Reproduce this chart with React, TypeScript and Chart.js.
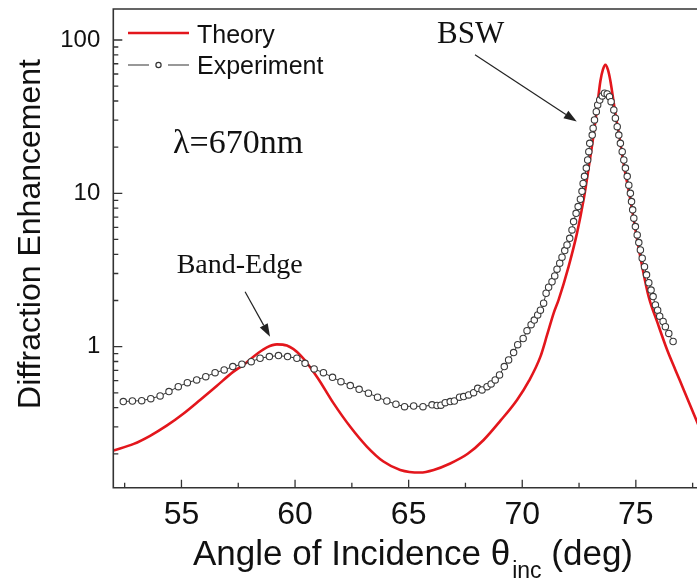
import { useEffect, useRef } from 'react';
import { Chart, registerables } from 'chart.js';

Chart.register(...registerables);

// ---- data ----
const theoryX = [52.0, 52.9, 53.62, 54.35, 55.08, 55.82, 56.55, 57.29, 57.73, 58.32, 58.76, 59.2, 59.64, 60.22, 60.96, 61.69, 62.43, 63.16, 63.89, 64.63, 65.51, 66.1, 66.83, 67.6, 68.3, 69.05, 69.77, 70.3, 70.8, 71.1, 71.38, 71.6, 72.04, 72.41, 72.7, 72.93, 73.15, 73.29, 73.44, 73.55, 73.66, 73.77, 73.88, 74.1, 74.25, 74.5, 74.76, 75.0, 75.28, 75.57, 75.94, 76.38, 76.75, 77.11, 77.72, 78.0];
const theoryY = [0.21, 0.232, 0.262, 0.305, 0.365, 0.449, 0.554, 0.687, 0.76, 0.896, 0.99, 1.035, 1.016, 0.883, 0.637, 0.428, 0.3, 0.223, 0.178, 0.157, 0.151, 0.157, 0.173, 0.2, 0.246, 0.33, 0.449, 0.6, 0.861, 1.2, 1.65, 2.02, 3.33, 5.5, 9.06, 14.9, 24.7, 36.0, 54.0, 64.0, 68.8, 64.0, 54.0, 33.0, 24.7, 14.5, 9.06, 5.6, 3.33, 2.1, 1.45, 0.95, 0.7, 0.522, 0.316, 0.25];

const expX = [52.44, 52.84, 53.25, 53.65, 54.06, 54.45, 54.86, 55.26, 55.67, 56.07, 56.48, 56.88, 57.26, 57.66, 58.07, 58.46, 58.87, 59.27, 59.67, 60.08, 60.44, 60.84, 61.25, 61.65, 62.02, 62.43, 62.82, 63.23, 63.63, 64.04, 64.44, 64.82, 65.22, 65.63, 66.03, 66.25, 66.42, 66.61, 66.83, 67.01, 67.24, 67.42, 67.64, 67.86, 68.04, 68.23, 68.45, 68.63, 68.81, 69.0, 69.21, 69.4, 69.62, 69.8, 70.04, 70.21, 70.39, 70.53, 70.68, 70.8, 70.94, 71.05, 71.16, 71.31, 71.43, 71.53, 71.65, 71.75, 71.87, 71.97, 72.09, 72.19, 72.26, 72.37, 72.46, 72.56, 72.63, 72.68, 72.74, 72.82, 72.88, 72.93, 72.97, 73.08, 73.12, 73.18, 73.26, 73.32, 73.41, 73.52, 73.62, 73.74, 73.84, 73.91, 74.03, 74.1, 74.18, 74.25, 74.32, 74.4, 74.47, 74.54, 74.62, 74.69, 74.76, 74.81, 74.86, 74.91, 74.98, 75.06, 75.13, 75.2, 75.28, 75.38, 75.47, 75.57, 75.67, 75.76, 75.86, 75.96, 76.05, 76.2, 76.3, 76.45, 76.64];
const expY = [0.438, 0.442, 0.444, 0.458, 0.477, 0.509, 0.548, 0.582, 0.607, 0.637, 0.676, 0.705, 0.741, 0.768, 0.798, 0.84, 0.861, 0.874, 0.861, 0.84, 0.778, 0.715, 0.676, 0.631, 0.591, 0.557, 0.527, 0.497, 0.468, 0.442, 0.421, 0.406, 0.41, 0.406, 0.417, 0.413, 0.415, 0.431, 0.438, 0.442, 0.468, 0.472, 0.484, 0.501, 0.535, 0.522, 0.548, 0.571, 0.607, 0.654, 0.741, 0.819, 0.914, 1.03, 1.13, 1.27, 1.39, 1.49, 1.61, 1.73, 1.92, 2.23, 2.44, 2.65, 2.89, 3.2, 3.5, 3.83, 4.23, 4.61, 5.09, 5.77, 6.54, 7.41, 8.19, 9.15, 10.3, 11.6, 12.9, 14.6, 16.5, 18.7, 21.2, 24.0, 26.6, 30.1, 34.1, 37.7, 40.6, 43.2, 45.0, 44.5, 42.7, 39.6, 35.0, 30.9, 27.2, 24.0, 21.2, 18.7, 16.5, 14.6, 12.9, 11.3, 10.0, 8.83, 7.8, 6.88, 6.07, 5.35, 4.77, 4.27, 3.77, 3.32, 2.94, 2.61, 2.34, 2.12, 1.87, 1.73, 1.58, 1.46, 1.35, 1.22, 1.08];

const xTicks = [55, 60, 65, 70, 75];
const yTicks = [1, 10, 100];
const seriesNames = ['Theory', 'Experiment'];

const X_MIN = 52;
const X_MAX = 78;
const Y_MIN = 0.1202;
const Y_MAX = 159.3;

const SANS = '"Liberation Sans", Arial, sans-serif';
const SERIF = '"Liberation Serif", "Times New Roman", serif';
const RED = '#e3161c';
const DARK = '#333333';

function arrow(ctx: CanvasRenderingContext2D, x1: number, y1: number, x2: number, y2: number) {
  const ang = Math.atan2(y2 - y1, x2 - x1);
  const hl = 13, hw = 4.5;
  const bx = x2 - hl * Math.cos(ang), by = y2 - hl * Math.sin(ang);
  ctx.beginPath();
  ctx.moveTo(x1, y1);
  ctx.lineTo(bx, by);
  ctx.stroke();
  ctx.beginPath();
  ctx.moveTo(x2, y2);
  ctx.lineTo(bx + hw * Math.sin(ang), by - hw * Math.cos(ang));
  ctx.lineTo(bx - hw * Math.sin(ang), by + hw * Math.cos(ang));
  ctx.closePath();
  ctx.fill();
}

const decorPlugin = {
  id: 'decor',
  afterDraw(chart: any) {
    const { ctx, chartArea: a, scales } = chart;
    const xs = scales.x, ys = scales.y;
    ctx.save();
    // frame
    ctx.strokeStyle = DARK;
    ctx.lineWidth = 1.6;
    ctx.beginPath();
    ctx.moveTo(a.right, a.top);
    ctx.lineTo(a.left, a.top);
    ctx.lineTo(a.left, a.bottom);
    ctx.lineTo(a.right, a.bottom);
    ctx.lineTo(a.right, a.top);
    ctx.stroke();
    // inward ticks, y (log)
    ctx.lineWidth = 1.3;
    ctx.beginPath();
    for (const d of [0.1, 1, 10, 100]) {
      for (let k = 1; k <= 9; k++) {
        const v = k * d;
        if (v < Y_MIN || v > Y_MAX) continue;
        const y = ys.getPixelForValue(v);
        const len = k === 1 ? 9 : 5;
        ctx.moveTo(a.left, y);
        ctx.lineTo(a.left + len, y);
      }
    }
    // inward ticks, x
    for (let v = 52.5; v <= X_MAX; v += 2.5) {
      const x = xs.getPixelForValue(v);
      const len = Math.abs(v % 5) < 1e-6 ? 8 : 5;
      ctx.moveTo(x, a.bottom);
      ctx.lineTo(x, a.bottom - len);
    }
    ctx.stroke();

    // legend
    ctx.lineWidth = 2.6;
    ctx.strokeStyle = RED;
    ctx.beginPath();
    ctx.moveTo(128, 33);
    ctx.lineTo(189, 33);
    ctx.stroke();
    ctx.lineWidth = 1.2;
    ctx.strokeStyle = DARK;
    ctx.beginPath();
    ctx.moveTo(128, 65);
    ctx.lineTo(149, 65);
    ctx.moveTo(168, 65);
    ctx.lineTo(189, 65);
    ctx.stroke();
    ctx.beginPath();
    ctx.arc(158.5, 65, 2.6, 0, Math.PI * 2);
    ctx.fillStyle = '#fff';
    ctx.fill();
    ctx.stroke();
    ctx.fillStyle = '#111';
    ctx.font = `25px ${SANS}`;
    ctx.textAlign = 'left';
    ctx.textBaseline = 'alphabetic';
    ctx.fillText(seriesNames[0], 197, 43);
    ctx.fillText(seriesNames[1], 197, 74);

    // annotations (anchored in data coordinates)
    ctx.font = `34px ${SERIF}`;
    ctx.fillText('\u03BB=670nm', xs.getPixelForValue(54.63), ys.getPixelForValue(18.4));
    ctx.font = `31px ${SERIF}`;
    ctx.fillText('BSW', xs.getPixelForValue(66.25), ys.getPixelForValue(96));
    ctx.font = `28px ${SERIF}`;
    ctx.fillText('Band-Edge', xs.getPixelForValue(54.79), ys.getPixelForValue(3.01));
    ctx.strokeStyle = '#222';
    ctx.fillStyle = '#222';
    ctx.lineWidth = 1.2;
    arrow(ctx, xs.getPixelForValue(67.92), ys.getPixelForValue(80), xs.getPixelForValue(72.4), ys.getPixelForValue(29.4));
    arrow(ctx, xs.getPixelForValue(57.8), ys.getPixelForValue(2.28), xs.getPixelForValue(58.9), ys.getPixelForValue(1.16));

    // axis titles
    ctx.fillStyle = '#111';
    ctx.save();
    ctx.translate(31, 234);
    ctx.rotate(-Math.PI / 2);
    ctx.font = `32px ${SANS}`;
    ctx.textAlign = 'center';
    ctx.textBaseline = 'middle';
    ctx.fillText('Diffraction Enhancement', 0, 0);
    ctx.restore();

    const main = 'Angle of Incidence \u03B8';
    const sub = 'inc';
    const tail = ' (deg)';
    ctx.font = `35px ${SANS}`;
    const w1 = ctx.measureText(main).width;
    const w3 = ctx.measureText(tail).width;
    ctx.font = `23px ${SANS}`;
    const w2 = ctx.measureText(sub).width;
    const total = w1 + 2 + w2 + w3;
    const x0 = 413 - total / 2;
    ctx.textAlign = 'left';
    ctx.textBaseline = 'alphabetic';
    ctx.font = `35px ${SANS}`;
    ctx.fillText(main, x0, 565);
    ctx.font = `23px ${SANS}`;
    ctx.fillText(sub, x0 + w1 + 2, 578);
    ctx.font = `35px ${SANS}`;
    ctx.fillText(tail, x0 + w1 + 2 + w2, 565);
    ctx.restore();
  },
};

export default function App() {
  const ref = useRef<HTMLCanvasElement>(null);
  useEffect(() => {
    const chart = new Chart(ref.current as HTMLCanvasElement, {
      type: 'line',
      data: {
        datasets: [
          {
            label: seriesNames[1],
            data: expX.map((x, i) => ({ x, y: expY[i] })),
            borderColor: DARK,
            borderWidth: 1,
            pointRadius: 3.2,
            pointBorderWidth: 1.1,
            pointBorderColor: '#3a3a3a',
            pointBackgroundColor: '#ffffff',
            tension: 0,
            order: 0,
          },
          {
            label: seriesNames[0],
            data: theoryX.map((x, i) => ({ x, y: theoryY[i] })),
            borderColor: RED,
            borderWidth: 2.6,
            pointRadius: 0,
            cubicInterpolationMode: 'monotone',
            order: 1,
          },
        ],
      } as any,
      options: {
        animation: false,
        responsive: false,
        devicePixelRatio: 1,
        layout: { autoPadding: false, padding: { top: 9, right: 1, left: 0, bottom: 0 } },
        plugins: { legend: { display: false }, tooltip: { enabled: false } },
        scales: {
          x: {
            type: 'linear',
            min: X_MIN,
            max: X_MAX,
            grid: { display: false, drawTicks: false },
            border: { display: false },
            afterBuildTicks: (s: any) => { s.ticks = xTicks.map((v) => ({ value: v })); },
            afterFit: (s: any) => {
              s.height = 94.3;
              s.paddingLeft = 0; s.paddingRight = 0; s.paddingTop = 0; s.paddingBottom = 0;
            },
            ticks: {
              color: '#111',
              font: { family: SANS, size: 32 },
              padding: 8,
              maxRotation: 0,
              autoSkip: false,
              callback: (v: any) => String(v),
            },
          },
          y: {
            type: 'logarithmic',
            min: Y_MIN,
            max: Y_MAX,
            grid: { display: false, drawTicks: false },
            border: { display: false },
            afterBuildTicks: (s: any) => { s.ticks = yTicks.map((v) => ({ value: v })); },
            afterFit: (s: any) => {
              s.width = 113.3;
              s.paddingLeft = 0; s.paddingRight = 0; s.paddingTop = 0; s.paddingBottom = 0;
            },
            ticks: {
              color: '#111',
              font: { family: SANS, size: 24 },
              padding: 13,
              autoSkip: false,
              callback: (v: any) => String(v),
            },
          },
        },
      } as any,
      plugins: [decorPlugin],
    });
    return () => chart.destroy();
  }, []);

  return (
    <div style={{ position: 'fixed', left: 0, top: 0, width: 697, height: 582, overflow: 'hidden', background: '#fff' }}>
      <canvas ref={ref} width={705} height={582} style={{ display: 'block', width: 705, height: 582 }} />
    </div>
  );
}
